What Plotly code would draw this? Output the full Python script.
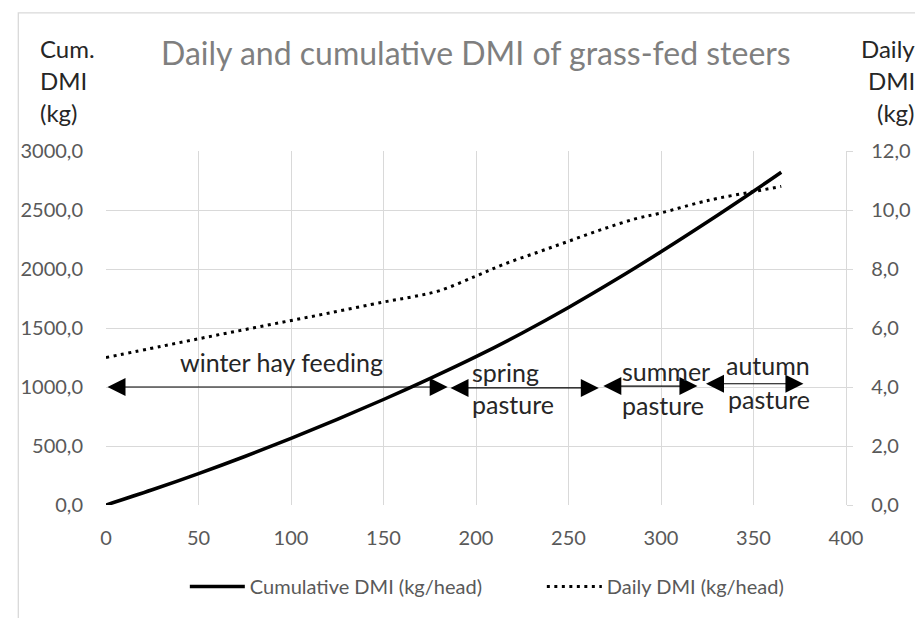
import plotly.graph_objects as go

# ---- data ----
cum_days = [0, 25, 50, 75, 100, 125, 150, 175, 200, 225, 250, 275, 300, 325, 350, 365]
cum_dmi = [0, 129, 266, 411, 564, 725, 894, 1071, 1257, 1458, 1674, 1904, 2146, 2398, 2659, 2820]

daily_days = [0, 30, 60, 90, 120, 150, 165, 180, 200, 215, 233, 250, 268, 286, 300, 320, 331, 348, 365]
daily_dmi = [5.0, 5.38, 5.76, 6.13, 6.50, 6.88, 7.05, 7.26, 7.76, 8.16, 8.56, 8.94, 9.34, 9.70, 9.90, 10.24, 10.40, 10.60, 10.80]

phase_start = [0, 185.4, 268, 323.5]
phase_end = [184.7, 266.4, 319.7, 377]
phase_level = [4.0, 3.97, 4.03, 4.11]

# phase labels
label_text = ["winter hay feeding", "spring", "pasture", "summer", "pasture", "autumn", "pasture"]
label_x = [94.8, 196.6, 196.6, 277.6, 277.6, 334.0, 335.0]
label_y = [4.85, 4.52, 3.44, 4.53, 3.40, 4.73, 3.58]
label_anchor = ["center", "left", "left", "left", "left", "left", "left"]

x_ticks = [0, 50, 100, 150, 200, 250, 300, 350, 400]
left_ticks = [0, 500, 1000, 1500, 2000, 2500, 3000]
right_ticks = [0, 2, 4, 6, 8, 10, 12]

FONT = "Lato"
GRID = "#d9d9d9"
TICKC = "#595959"
TXT = "#262626"

# page body has an 8px margin; work in reference pixels and shift
OFF = 8
W, H = 923 - OFF, 618 - OFF
L, T = 96 - OFF, 151 - OFF
R = W - (847 - OFF)
B = H - (507 - OFF)
pw, ph = W - L - R, H - T - B


def px(xpix):
    return (xpix - OFF - L) / pw


def py(ypix):
    return (H - B - (ypix - OFF)) / ph


fig = go.Figure()
fig.add_trace(go.Scatter(
    x=cum_days, y=cum_dmi, mode="lines", name="Cumulative DMI (kg/head)",
    line=dict(color="#000000", width=3.5, shape="spline"), yaxis="y"))
fig.add_trace(go.Scatter(
    x=daily_days, y=daily_dmi, mode="lines", name="Daily DMI (kg/head)",
    line=dict(color="#000000", width=3, dash="3px,4.5px", shape="spline"), yaxis="y2"))

annotations = []
for s, e, lv in zip(phase_start, phase_end, phase_level):
    annotations.append(dict(
        x=e, y=lv, ax=s, ay=lv, xref="x", yref="y2", axref="x", ayref="y2",
        text="", showarrow=True, arrowhead=2, arrowsize=3, arrowwidth=1.2,
        arrowside="end+start", startarrowhead=2, startarrowsize=3, arrowcolor="#000000"))
for t, lx, ly, anc in zip(label_text, label_x, label_y, label_anchor):
    annotations.append(dict(
        x=lx, y=ly, xref="x", yref="y2", text=t, showarrow=False,
        xanchor=anc, yanchor="middle", font=dict(family=FONT, size=25, color=TXT)))

for i, t in enumerate(["Cum.", "DMI", "(kg)"]):
    annotations.append(dict(x=px(27), y=py(48 + 32 * i), xref="paper", yref="paper", text=t,
                            showarrow=False, xanchor="left", yanchor="middle",
                            font=dict(family=FONT, size=24, color=TXT)))
for i, t in enumerate(["Daily", "DMI", "(kg)"]):
    annotations.append(dict(x=px(919), y=py(48 + 32 * i), xref="paper", yref="paper", text=t,
                            showarrow=False, xanchor="right", yanchor="middle",
                            font=dict(family=FONT, size=24, color=TXT)))

annotations.append(dict(x=px(471), y=py(52), xref="paper", yref="paper",
                        text="Daily and cumulative DMI of grass-fed steers", showarrow=False,
                        xanchor="center", yanchor="middle",
                        font=dict(family=FONT, size=32, color="#7f7f7f")))

fig.update_layout(
    width=W, height=H,
    margin=dict(l=L, r=R, t=T, b=B, pad=0),
    paper_bgcolor="white", plot_bgcolor="white",
    font=dict(family=FONT, color=TICKC, size=20),
    showlegend=True,
    legend=dict(orientation="h", x=px(176), xanchor="left", y=py(589), yanchor="middle",
                font=dict(family=FONT, size=20, color=TICKC), itemwidth=55,
                entrywidth=287, entrywidthmode="pixels", tracegroupgap=0),
    xaxis=dict(range=[0, 400], tickvals=x_ticks, ticktext=[str(v) for v in x_ticks],
               showgrid=True, gridcolor=GRID, gridwidth=1.4, zeroline=False,
               showline=False, ticks="", ticklabelstandoff=19,
               tickfont=dict(family=FONT, size=20, color=TICKC)),
    yaxis=dict(range=[0, 3000], tickvals=left_ticks,
               ticktext=[f"{v:.1f}".replace(".", ",") for v in left_ticks],
               showgrid=True, gridcolor=GRID, gridwidth=1.4, zeroline=False,
               showline=False, ticks="", ticklabelstandoff=22,
               tickfont=dict(family=FONT, size=20, color=TICKC)),
    yaxis2=dict(range=[0, 12], tickvals=right_ticks,
                ticktext=[f"{v:.1f}".replace(".", ",") for v in right_ticks],
                overlaying="y", side="right", showgrid=False, zeroline=False,
                showline=True, linecolor=GRID, linewidth=1.4,
                ticks="outside", ticklen=6, tickcolor=GRID, tickwidth=1.4,
                ticklabelstandoff=14,
                tickfont=dict(family=FONT, size=20, color=TICKC)),
    annotations=annotations,
    shapes=[dict(type="rect", xref="paper", yref="paper",
                 x0=px(7), x1=px(960), y0=py(660), y1=py(12),
                 line=dict(color=GRID, width=1.3), fillcolor="rgba(0,0,0,0)", layer="below")],
)

fig.write_html("out.html")
